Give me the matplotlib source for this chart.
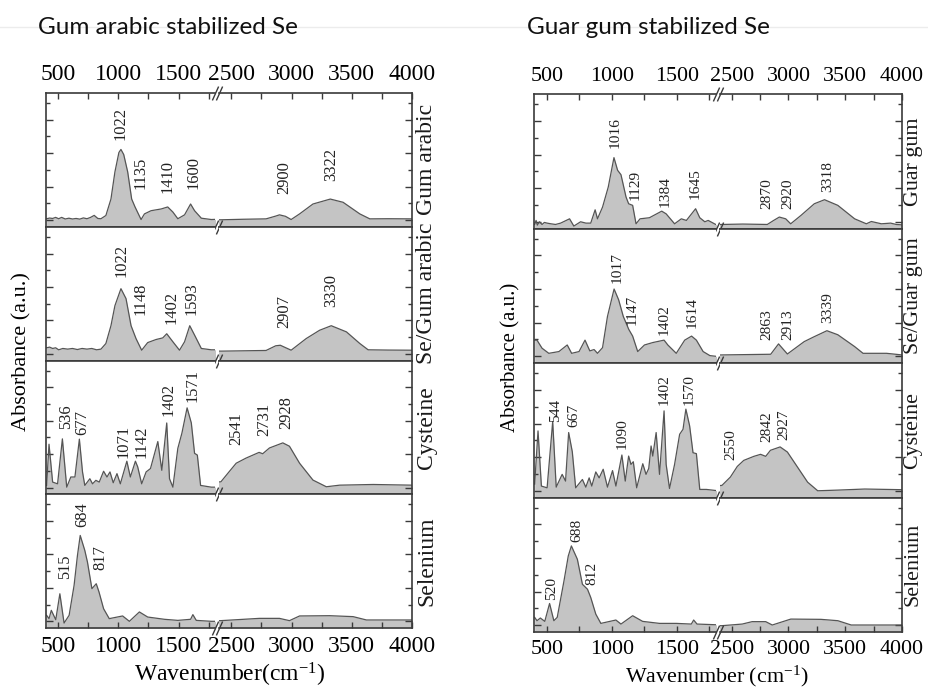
import matplotlib
matplotlib.use("Agg")
import matplotlib.pyplot as plt
from matplotlib.lines import Line2D
from matplotlib.ticker import FixedLocator, MultipleLocator

plt.rcParams['font.family'] = ['Liberation Serif', 'DejaVu Serif']
plt.rcParams['mathtext.fontset'] = 'custom'
plt.rcParams['mathtext.rm'] = 'Liberation Serif'
plt.rcParams['mathtext.it'] = 'Liberation Serif:italic'

# FTIR spectra, absorbance (0 = bottom of a row, 1 = top)
# --- gum arabic set (left figure)
ga_wn = [405, 430, 455, 480, 505, 530, 560, 590, 620, 650, 680, 710, 740, 770, 800, 830, 856,
         897, 939, 972, 1005, 1022, 1045, 1078, 1111, 1139, 1189, 1217, 1272, 1356, 1410, 1453,
         1494, 1550, 1600, 1633, 1689, 1772, 1800,
         2414, 2600, 2789, 2870, 2900, 2950, 2997, 3067, 3178, 3322, 3428, 3567, 3650, 3800, 4000]
ga_ab = [0.06, 0.065, 0.062, 0.07, 0.06, 0.07, 0.058, 0.064, 0.058, 0.062, 0.057, 0.066, 0.06, 0.07, 0.085, 0.062, 0.06,
         0.084, 0.207, 0.41, 0.555, 0.578, 0.54, 0.41, 0.207, 0.148, 0.054, 0.096, 0.12, 0.133, 0.148, 0.11,
         0.06, 0.089, 0.17, 0.12, 0.064, 0.054, 0.055,
         0.052, 0.056, 0.059, 0.08, 0.089, 0.078, 0.054, 0.096, 0.17, 0.207, 0.183, 0.096, 0.059, 0.06, 0.059]

sega_wn = [405, 430, 455, 480, 505, 540, 580, 620, 660, 700, 740, 780, 820, 856, 897, 939, 972,
           1022, 1064, 1106, 1147, 1194, 1244, 1314, 1369, 1402, 1453, 1508, 1550, 1593, 1633, 1689,
           1772, 1800,
           2414, 2789, 2869, 2907, 2997, 3122, 3233, 3330, 3456, 3567, 3636, 3800, 4000]
sega_ab = [0.095, 0.1, 0.09, 0.095, 0.08, 0.09, 0.085, 0.09, 0.082, 0.09, 0.085, 0.09, 0.08, 0.085, 0.127, 0.26, 0.41,
           0.537, 0.463, 0.26, 0.164, 0.077, 0.134, 0.157, 0.169, 0.2, 0.14, 0.077, 0.14, 0.26, 0.19, 0.09,
           0.08, 0.08,
           0.07, 0.075, 0.11, 0.114, 0.077, 0.164, 0.226, 0.26, 0.214, 0.127, 0.08, 0.078, 0.077]

cys1_wn = [405, 425, 455, 496, 536, 572, 606, 640, 677, 703, 722, 764, 786, 814, 842, 878, 906,
           931, 958, 989, 1017, 1071, 1100, 1142, 1161, 1194, 1231, 1267, 1328, 1361, 1402, 1425,
           1453, 1494, 1528, 1571, 1606, 1633, 1656, 1683, 1772, 1800,
           2414, 2483, 2541, 2622, 2731, 2761, 2817, 2928, 2983, 3067, 3178, 3289, 3400, 3678, 4000]
cys1_ab = [0.066, 0.374, 0.091, 0.078, 0.414, 0.053, 0.129, 0.129, 0.412, 0.167, 0.066, 0.116, 0.078, 0.104, 0.091, 0.172, 0.129,
           0.167, 0.086, 0.154, 0.078, 0.247, 0.129, 0.247, 0.205, 0.078, 0.167, 0.192, 0.394, 0.179, 0.533, 0.116,
           0.053, 0.343, 0.457, 0.646, 0.533, 0.306, 0.293, 0.066, 0.053, 0.053,
           0.093, 0.169, 0.232, 0.27, 0.313, 0.303, 0.346, 0.384, 0.359, 0.232, 0.106, 0.056, 0.068, 0.073, 0.068]

se1_wn = [405, 425, 444, 481, 515, 550, 592, 633, 661, 684, 722, 744, 781, 817, 840, 878, 925,
          1036, 1092, 1175, 1244, 1383, 1494, 1600, 1619, 1647, 1772, 1800,
          2414, 2733, 2900, 2983, 3067, 3317, 3511, 3622, 4000]
se1_ab = [0.095, 0.07, 0.132, 0.062, 0.256, 0.037, 0.095, 0.318, 0.542, 0.692, 0.58, 0.493, 0.294, 0.331, 0.269, 0.144, 0.07,
          0.09, 0.05, 0.12, 0.082, 0.065, 0.057, 0.065, 0.1, 0.057, 0.05, 0.05,
          0.055, 0.072, 0.072, 0.055, 0.09, 0.092, 0.085, 0.06, 0.06]

# --- guar gum set (right figure)
gg_wn = [405, 416, 426, 442, 462, 480, 501, 530, 566, 605, 674, 707, 759, 800, 837, 871, 889,
         928, 972, 1016, 1044, 1070, 1109, 1129, 1160, 1186, 1217, 1289, 1384, 1418, 1483, 1535,
         1574, 1645, 1677, 1716, 1742, 1800,
         2415, 2600, 2814, 2870, 2920, 2976, 3020, 3110, 3228, 3318, 3435, 3583, 3686, 3730, 3819,
         3900, 3950, 4000]
gg_ab = [0.03, 0.06, 0.025, 0.05, 0.03, 0.045, 0.04, 0.035, 0.03, 0.04, 0.072, 0.018, 0.05, 0.04, 0.04, 0.139, 0.072,
         0.159, 0.308, 0.527, 0.433, 0.4, 0.234, 0.184, 0.172, 0.035, 0.072, 0.08, 0.129, 0.109, 0.035, 0.072,
         0.06, 0.147, 0.08, 0.05, 0.06, 0.03,
         0.03, 0.033, 0.03, 0.06, 0.085, 0.072, 0.035, 0.097, 0.184, 0.214, 0.172, 0.072, 0.035, 0.052, 0.035,
         0.04, 0.03, 0.027]

segg_wn = [405, 423, 462, 514, 592, 656, 690, 747, 793, 830, 863, 889, 928, 966, 1017, 1052, 1088,
           1130, 1160, 1199, 1251, 1315, 1402, 1431, 1496, 1561, 1614, 1651, 1703, 1755, 1800,
           2415, 2844, 2913, 2991, 3139, 3228, 3339, 3435, 3583, 3657, 3864, 4000]
segg_ab = [0.17, 0.17, 0.11, 0.072, 0.085, 0.134, 0.072, 0.085, 0.17, 0.09, 0.1, 0.072, 0.114, 0.346, 0.55, 0.47, 0.346,
           0.25, 0.2, 0.085, 0.134, 0.152, 0.17, 0.134, 0.072, 0.17, 0.2, 0.17, 0.085, 0.055, 0.05,
           0.06, 0.065, 0.142, 0.067, 0.159, 0.196, 0.24, 0.21, 0.122, 0.072, 0.072, 0.06]

cys2_wn = [405, 431, 457, 501, 544, 571, 617, 643, 667, 695, 721, 773, 799, 825, 845, 876, 902,
           933, 966, 1005, 1031, 1077, 1103, 1129, 1147, 1165, 1191, 1238, 1263, 1284, 1302, 1315,
           1341, 1367, 1402, 1418, 1444, 1483, 1522, 1548, 1570, 1599, 1625, 1651, 1677, 1728, 1800,
           2415, 2489, 2550, 2607, 2696, 2755, 2800, 2842, 2927, 2991, 3080, 3169, 3258, 3435, 3672, 4000]
cys2_ab = [0.1, 0.495, 0.085, 0.072, 0.565, 0.077, 0.172, 0.122, 0.483, 0.34, 0.072, 0.134, 0.077, 0.146, 0.085, 0.19, 0.146,
           0.21, 0.077, 0.2, 0.085, 0.316, 0.122, 0.308, 0.246, 0.266, 0.072, 0.251, 0.172, 0.216, 0.383, 0.308,
           0.483, 0.172, 0.644, 0.246, 0.067, 0.246, 0.47, 0.507, 0.657, 0.532, 0.333, 0.326, 0.06, 0.06, 0.052,
           0.09, 0.152, 0.231, 0.276, 0.306, 0.321, 0.306, 0.351, 0.376, 0.338, 0.226, 0.114, 0.05, 0.055, 0.063, 0.058]

se2_wn = [405, 423, 449, 483, 520, 553, 579, 631, 664, 688, 734, 773, 812, 837, 876, 915,
          1031, 1070, 1160, 1237, 1367, 1496, 1612, 1630, 1656, 1800,
          2415, 2593, 2681, 2800, 2858, 3021, 3287, 3435, 3553, 4000]
se2_ab = [0.109, 0.084, 0.104, 0.079, 0.212, 0.084, 0.109, 0.38, 0.565, 0.64, 0.541, 0.355, 0.318, 0.257, 0.133, 0.064,
          0.089, 0.059, 0.121, 0.079, 0.064, 0.064, 0.059, 0.089, 0.059, 0.054,
          0.047, 0.059, 0.077, 0.077, 0.052, 0.096, 0.094, 0.084, 0.052, 0.052]

# peak annotations (labels) and where their text sits (x in cm-1, y in row fraction)
ga_peaks = [1022, 1135, 1410, 1600, 2900, 3322]
ga_pos = [(1017, 0.65), (1183, 0.28), (1406, 0.25), (1628, 0.28), (2942, 0.245), (3331, 0.343)]
sega_peaks = [1022, 1148, 1402, 1593, 2907, 3330]
sega_pos = [(1031, 0.625), (1183, 0.338), (1439, 0.276), (1606, 0.338), (2942, 0.24), (3331, 0.40)]
cys1_peaks = [536, 677, 1071, 1142, 1402, 1571, 2541, 2731, 2928]
cys1_pos = [(564, 0.485), (697, 0.44), (1044, 0.27), (1197, 0.27), (1419, 0.585), (1614, 0.687),
            (2539, 0.37), (2775, 0.434), (2956, 0.49)]
se1_peaks = [515, 684, 817]
se1_pos = [(558, 0.37), (697, 0.756), (850, 0.433)]

gg_peaks = [1016, 1129, 1384, 1645, 2870, 2920, 3318]
gg_pos = [(1028, 0.595), (1183, 0.209), (1410, 0.16), (1640, 0.22), (2808, 0.147), (2992, 0.147), (3347, 0.27)]
segg_peaks = [1017, 1147, 1402, 1614, 2863, 2913, 3339]
segg_pos = [(1041, 0.595), (1160, 0.284), (1405, 0.209), (1619, 0.259), (2814, 0.17), (2992, 0.17), (3347, 0.296)]
cys2_peaks = [544, 667, 1090, 1402, 1570, 2550, 2842, 2927]
cys2_pos = [(563, 0.562), (705, 0.525), (1080, 0.363), (1402, 0.687), (1596, 0.687),
            (2489, 0.276), (2814, 0.413), (2962, 0.425)]
se2_peaks = [520, 688, 812]
se2_pos = [(537, 0.237), (731, 0.669), (847, 0.348)]

FILL = '#c4c4c4'
LINE = '#555555'
SPINE = '#3a3a3a'
W, H = 929, 689

fig = plt.figure(figsize=(W / 100, H / 100), dpi=100)


def draw_panel(box, ratios, rows, name_offset, fs):
    left, right, top, bottom = box
    gs = fig.add_gridspec(4, 2, left=left / W, right=right / W, top=1 - top / H, bottom=1 - bottom / H,
                          hspace=0, wspace=0.025, width_ratios=ratios)
    for r, (wn, ab, name, peaks, pos) in enumerate(rows):
        a = fig.add_subplot(gs[r, 0])
        b = fig.add_subplot(gs[r, 1])
        first, last = r == 0, r == 3
        for ax, lim in ((a, (400, 1800)), (b, (2400, 4000))):
            ax.fill_between(wn, ab, 0, color=FILL, lw=0)
            ax.plot(wn, ab, color=LINE, lw=0.9)
            ax.set_xlim(*lim)
            ax.set_ylim(0, 1)
            ax.xaxis.set_major_locator(MultipleLocator(500))
            ax.xaxis.set_minor_locator(MultipleLocator(250))
            ax.yaxis.set_major_locator(FixedLocator([0.05, 0.3, 0.55, 0.8]))
            ax.yaxis.set_minor_locator(FixedLocator([0.175, 0.425, 0.675, 0.925]))
            ax.tick_params(axis='x', which='both', direction='in', top=first, bottom=last,
                           labeltop=first, labelbottom=last, length=4, width=1, color=SPINE,
                           labelsize=fs, pad=6)
            for s in ax.spines.values():
                s.set_color(SPINE)
                s.set_linewidth(1.2)
        a.tick_params(axis='y', which='both', direction='in', left=True, right=False,
                      labelleft=False, color=SPINE, width=1)
        b.tick_params(axis='y', which='both', direction='in', left=False, right=True,
                      labelleft=False, color=SPINE, width=1)
        for ax in (a, b):
            ax.tick_params(axis='y', which='major', length=5)
            ax.tick_params(axis='y', which='minor', length=3)
        a.spines['right'].set_visible(False)
        b.spines['left'].set_visible(False)

        # break marks
        kw = dict(marker=[(-0.45, -1), (0.45, 1)], markersize=10, linestyle='none',
                  color=SPINE, mec=SPINE, mew=1, clip_on=False)
        ys = [0, 1] if first else [0]
        for y in ys:
            a.plot([1], [y], transform=a.transAxes, **kw)
            b.plot([0], [y], transform=b.transAxes, **kw)

        for p, (x, y) in zip(peaks, pos):
            ax = b if x > 2000 else a
            ax.text(x, y, str(p), rotation=90, ha='center', va='bottom',
                    fontsize=fs * 0.7, color='#222222')

        b.annotate(name, xy=(1, 0.5), xycoords='axes fraction', xytext=(name_offset, 0),
                   textcoords='offset points', rotation=90, ha='center', va='center',
                   fontsize=fs, color='#1a1a1a')


draw_panel((46, 412, 93, 628), [1400, 1600], [
    (ga_wn, ga_ab, 'Gum arabic', ga_peaks, ga_pos),
    (sega_wn, sega_ab, 'Se/Gum arabic', sega_peaks, sega_pos),
    (cys1_wn, cys1_ab, 'Cysteine', cys1_peaks, cys1_pos),
    (se1_wn, se1_ab, 'Selenium', se1_peaks, se1_pos),
], 10.8, 17)

draw_panel((534, 902, 94, 632), [1, 1], [
    (gg_wn, gg_ab, 'Guar gum', gg_peaks, gg_pos),
    (segg_wn, segg_ab, 'Se/Guar gum', segg_peaks, segg_pos),
    (cys2_wn, cys2_ab, 'Cysteine', cys2_peaks, cys2_pos),
    (se2_wn, se2_ab, 'Selenium', se2_peaks, se2_pos),
], 8, 15.8)

# figure texts
fig.add_artist(Line2D([0, 1], [1 - 27 / H] * 2, color='#ececec', lw=1))
fig.text(38 / W, 1 - 27 / H, 'Gum arabic stabilized Se', family='Lato', fontsize=17.5,
         ha='left', va='center', color='#111111')
fig.text(527 / W, 1 - 27 / H, 'Guar gum stabilized Se', family='Lato', fontsize=17.5,
         ha='left', va='center', color='#111111')
fig.text(22 / W, 1 - 352 / H, 'Absorbance (a.u.)', rotation=90, ha='center', va='center', fontsize=16)
fig.text(511 / W, 1 - 357 / H, 'Absorbance (a.u.)', rotation=90, ha='center', va='center', fontsize=15)
fig.text(230 / W, 1 - 675 / H, 'Wavenumber(cm$^{-1}$)', ha='center', va='center', fontsize=17)
fig.text(717 / W, 1 - 676 / H, 'Wavenumber (cm$^{-1}$)', ha='center', va='center', fontsize=15.8)

fig.savefig('out.png', dpi=100)
